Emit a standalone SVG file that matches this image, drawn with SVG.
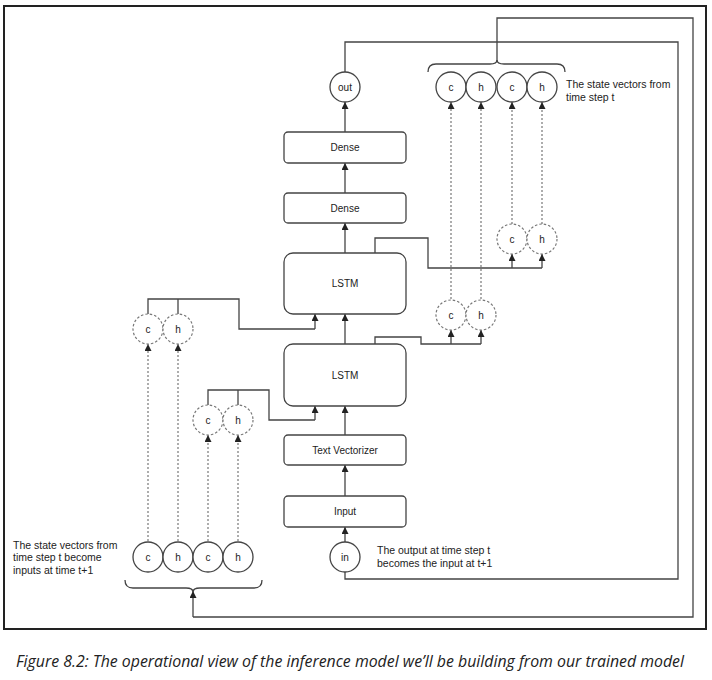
<svg xmlns="http://www.w3.org/2000/svg" width="712" height="680" viewBox="0 0 712 680">
<defs>
<marker id="ah" viewBox="0 0 8 8" refX="8" refY="4" markerWidth="7" markerHeight="7" markerUnits="userSpaceOnUse" orient="auto">
<path d="M0,0 L8,4 L0,8 z" fill="#222"/>
</marker>
<style>
.box{fill:#fff;stroke:#444;stroke-width:1.3}
.sc{fill:#fff;stroke:#444;stroke-width:1.3}
.dc{fill:#fff;stroke:#777;stroke-width:1.2;stroke-dasharray:2.5 2}
.ln{fill:none;stroke:#444;stroke-width:1.3}
.ar{fill:none;stroke:#444;stroke-width:1.3;marker-end:url(#ah)}
.dt{fill:none;stroke:#777;stroke-width:1.2;stroke-dasharray:2 2;marker-end:url(#ah)}
.t{font-family:"Liberation Sans",Arial,sans-serif;font-size:10px;fill:#222;text-anchor:middle}
.n{font-family:"Liberation Sans",Arial,sans-serif;font-size:10.5px;fill:#222}
</style>
</defs>
<rect width="712" height="680" fill="#fff"/>
<rect x="4" y="6" width="702" height="623" fill="none" stroke="#222" stroke-width="2"/>

<g id="connectors">
<!-- feedback loops -->
<path class="ln" d="M497,61 V18 H693 V617 H193"/>
<path class="ar" d="M193,617 V591"/>
<path class="ln" d="M345,72 V42 H678 V579 H345 V572"/>
<!-- main chain -->
<path class="ar" d="M345,542 V527"/>
<path class="ar" d="M345,496 V465"/>
<path class="ar" d="M345,435 V406"/>
<path class="ar" d="M345,344 V314"/>
<path class="ar" d="M345,253 V223"/>
<path class="ar" d="M345,193 V163"/>
<path class="ar" d="M345,132 V102"/>
<!-- upper LSTM states out -->
<path class="ln" d="M375,253 V238 H428 V268 H542"/>
<path class="ar" d="M512,268 V254"/>
<path class="ar" d="M542,268 V254"/>
<!-- lower LSTM states out -->
<path class="ln" d="M375,344 V337 H421 V344 H481"/>
<path class="ar" d="M451,344 V330"/>
<path class="ar" d="M481,344 V330"/>
<!-- left upper states into upper LSTM -->
<path class="ln" d="M148,314 V299 H239 V329 H315"/>
<path class="ln" d="M178,314 V299"/>
<path class="ar" d="M315,329 V314"/>
<!-- left lower states into lower LSTM -->
<path class="ln" d="M208,405 V390 H269 V420 H315"/>
<path class="ln" d="M238,405 V390"/>
<path class="ar" d="M315,420 V406"/>
<!-- dotted -->
<path class="dt" d="M148,541 V344"/>
<path class="dt" d="M178,541 V344"/>
<path class="dt" d="M208,541 V435"/>
<path class="dt" d="M238,541 V435"/>
<path class="dt" d="M451,299 V102"/>
<path class="dt" d="M481,299 V102"/>
<path class="dt" d="M512,224 V102"/>
<path class="dt" d="M542,224 V102"/>
<!-- braces -->
<path class="ln" d="M428,72 Q428,64 436,64 H490 Q497,64 497,60 Q497,64 504,64 H557 Q565,64 565,72"/>
<path class="ln" d="M125,580 Q125,588 133,588 H186 Q193,588 193,592 Q193,588 200,588 H254 Q262,588 262,580"/>
</g>

<g id="node-input"><rect class="box" x="284" y="496" width="122" height="31" rx="4"/><text class="t" x="345" y="515">Input</text></g>
<g id="node-vectorizer"><rect class="box" x="284" y="435" width="122" height="30" rx="4"/><text class="t" x="345" y="454">Text Vectorizer</text></g>
<g id="node-lstm1"><rect class="box" x="284" y="344" width="122" height="62" rx="9"/><text class="t" x="345" y="379">LSTM</text></g>
<g id="node-lstm2"><rect class="box" x="284" y="253" width="122" height="61" rx="9"/><text class="t" x="345" y="287">LSTM</text></g>
<g id="node-dense1"><rect class="box" x="284" y="193" width="122" height="30" rx="4"/><text class="t" x="345" y="212">Dense</text></g>
<g id="node-dense2"><rect class="box" x="284" y="132" width="122" height="31" rx="4"/><text class="t" x="345" y="151">Dense</text></g>
<g id="node-out"><circle class="sc" cx="345" cy="87" r="15"/><text class="t" x="345" y="91">out</text></g>
<g id="node-in"><circle class="sc" cx="345" cy="557" r="15"/><text class="t" x="345" y="561">in</text></g>

<g id="node-top-states">
<circle class="sc" cx="451" cy="87" r="15"/><text class="t" x="451" y="91">c</text>
<circle class="sc" cx="481" cy="87" r="15"/><text class="t" x="481" y="91">h</text>
<circle class="sc" cx="512" cy="87" r="15"/><text class="t" x="512" y="91">c</text>
<circle class="sc" cx="542" cy="87" r="15"/><text class="t" x="542" y="91">h</text>
</g>
<g id="node-bottom-states">
<circle class="sc" cx="148" cy="557" r="15"/><text class="t" x="148" y="561">c</text>
<circle class="sc" cx="178" cy="557" r="15"/><text class="t" x="178" y="561">h</text>
<circle class="sc" cx="208" cy="557" r="15"/><text class="t" x="208" y="561">c</text>
<circle class="sc" cx="238" cy="557" r="15"/><text class="t" x="238" y="561">h</text>
</g>
<g id="node-state-out2">
<circle class="dc" cx="512" cy="239" r="15"/><text class="t" x="512" y="243">c</text>
<circle class="dc" cx="542" cy="239" r="15"/><text class="t" x="542" y="243">h</text>
</g>
<g id="node-state-out1">
<circle class="dc" cx="451" cy="315" r="15"/><text class="t" x="451" y="319">c</text>
<circle class="dc" cx="481" cy="315" r="15"/><text class="t" x="481" y="319">h</text>
</g>
<g id="node-state-in2">
<circle class="dc" cx="148" cy="329" r="15"/><text class="t" x="148" y="333">c</text>
<circle class="dc" cx="178" cy="329" r="15"/><text class="t" x="178" y="333">h</text>
</g>
<g id="node-state-in1">
<circle class="dc" cx="208" cy="420" r="15"/><text class="t" x="208" y="424">c</text>
<circle class="dc" cx="238" cy="420" r="15"/><text class="t" x="238" y="424">h</text>
</g>

<g id="notes">
<text class="n" x="566" y="88">The state vectors from</text>
<text class="n" x="566" y="101">time step t</text>
<text class="n" x="13" y="549">The state vectors from</text>
<text class="n" x="13" y="561">time step t become</text>
<text class="n" x="13" y="574">inputs at time t+1</text>
<text class="n" x="377" y="554">The output at time step t</text>
<text class="n" x="377" y="567">becomes the input at t+1</text>
</g>

<text x="16" y="667" font-family="'Open Sans','Noto Sans',sans-serif" font-style="italic" font-size="16.5" fill="#222" textLength="668" lengthAdjust="spacingAndGlyphs">Figure 8.2: The operational view of the inference model we’ll be building from our trained model</text>
</svg>
